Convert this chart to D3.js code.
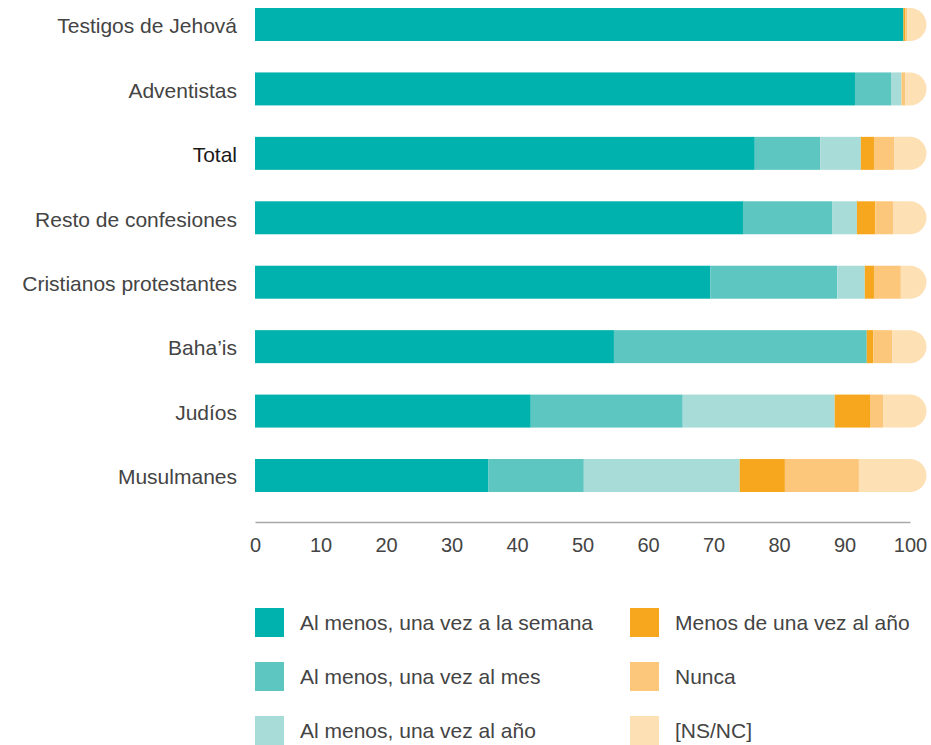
<!DOCTYPE html>
<html>
<head>
<meta charset="utf-8">
<script src="https://cdn.jsdelivr.net/npm/d3@7"></script>
<style>
  body { margin: 0; background: #fff; }
  #chart { width: 931px; height: 745px; }
  text { font-family: "Liberation Sans", Arial, sans-serif; }
</style>
</head>
<body>
<div id="chart"></div>
<script>
// Categories, top to bottom
const categories = ['Testigos de Jehová', 'Adventistas', 'Total', 'Resto de confesiones',
    'Cristianos protestantes', 'Baha\u2019is', 'Judíos', 'Musulmanes'];

// Series names (legend order)
const seriesNames = ['Al menos, una vez a la semana', 'Al menos, una vez al mes', 'Al menos, una vez al año',
    'Menos de una vez al año', 'Nunca', '[NS/NC]'];

// Values per series, in category order (%)
const weekly  = [99.0, 91.6, 76.3, 74.5, 69.5, 54.8, 42.1, 35.6];
const monthly = [0.0,  5.5,  10.0, 13.6, 19.4, 38.6, 23.2, 14.6];
const yearly  = [0.0,  1.6,  6.2,  3.8,  4.2,  0.0,  23.2, 23.8];
const lessYear = [0.3, 0.0,  2.0,  2.8,  1.4,  1.0,  5.4,  6.9];
const never   = [0.3,  0.6,  3.1,  2.7,  4.1,  2.9,  2.0,  11.3];
const nsnc    = [0.4,  0.7,  2.4,  2.6,  1.4,  2.7,  4.1,  7.8];

const xTicks = [0, 10, 20, 30, 40, 50, 60, 70, 80, 90, 100];

const colors = ['#00b2ad', '#5dc6c1', '#a8dcd9', '#f6a71e', '#fcc77a', '#fde0b4'];

const seriesValues = [weekly, monthly, yearly, lessYear, never, nsnc];

const width = 931;
const height = 745;

const svg = d3.select('#chart').append('svg')
    .attr('width', width)
    .attr('height', height);

const x = d3.scaleLinear().domain([0, 100]).range([255, 910]);

const y = d3.scaleBand()
    .domain(categories)
    .range([8, 492])
    .paddingInner(0.488)
    .paddingOuter(0);

// Build rows for the stack
const rows = categories.map((c, i) => {
    const row = { category: c };
    seriesNames.forEach((s, j) => { row[s] = seriesValues[j][i]; });
    return row;
});

const stacked = d3.stack().keys(seriesNames)(rows);

const bh = y.bandwidth();
const r = bh / 2;

stacked.forEach((layer, li) => {
    const g = svg.append('g').attr('fill', colors[li]);
    const isLast = li === stacked.length - 1;
    layer.forEach(d => {
        const cat = d.data.category;
        const x0 = x(d[0]);
        const x1 = x(d[1]);
        const yy = y(cat);
        if (isLast) {
            // last segment gets the rounded end cap beyond 100
            const p = d3.path();
            p.moveTo(x0, yy);
            p.lineTo(x1, yy);
            p.arc(x1, yy + r, r, -Math.PI / 2, Math.PI / 2);
            p.lineTo(x0, yy + bh);
            p.closePath();
            g.append('path').attr('d', p.toString());
        } else if (x1 - x0 > 0) {
            g.append('rect')
                .attr('x', x0)
                .attr('y', yy)
                .attr('width', x1 - x0)
                .attr('height', bh);
        }
    });
});

// Category labels
svg.append('g')
    .selectAll('text')
    .data(categories)
    .join('text')
    .attr('x', 237)
    .attr('y', d => y(d) + bh / 2)
    .attr('dy', '0.42em')
    .attr('text-anchor', 'end')
    .attr('font-size', '21px')
    .attr('fill', d => d === 'Total' ? '#1a1a1a' : '#444')
    .text(d => d);

// X axis
const axis = svg.append('g')
    .attr('transform', 'translate(0,522)')
    .call(d3.axisBottom(x).tickValues(xTicks).tickSize(0).tickPadding(16));

axis.select('.domain').attr('stroke', '#a8a8a8').attr('stroke-width', 1.5);
axis.selectAll('text')
    .attr('font-size', '20px')
    .attr('font-family', '"Liberation Sans", Arial, sans-serif')
    .attr('fill', '#444');

// Legend
const legend = svg.append('g');
seriesNames.forEach((s, i) => {
    const col = Math.floor(i / 3);
    const row = i % 3;
    const lx = col === 0 ? 255 : 630;
    const ly = 608 + row * 54;
    legend.append('rect')
        .attr('x', lx)
        .attr('y', ly)
        .attr('width', 29)
        .attr('height', 29)
        .attr('fill', colors[i]);
    legend.append('text')
        .attr('x', lx + 45)
        .attr('y', ly + 14.5)
        .attr('dy', '0.38em')
        .attr('font-size', '21px')
        .attr('fill', '#444')
        .text(s);
});
</script>
</body>
</html>
